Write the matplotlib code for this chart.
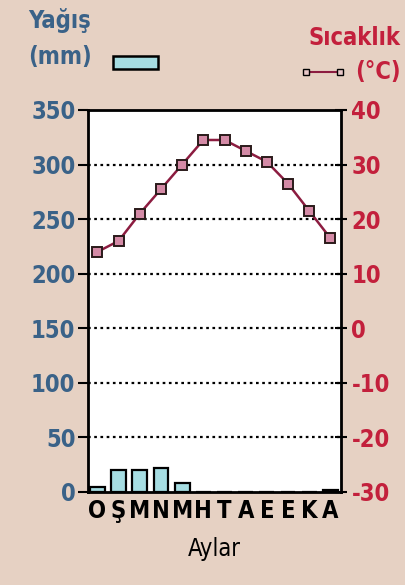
import numpy as np
import matplotlib.pyplot as plt
from matplotlib.patches import Rectangle
from matplotlib.lines import Line2D
from matplotlib import font_manager

plt.rcParams['axes.unicode_minus'] = False

months = ['O', 'Ş', 'M', 'N', 'M', 'H', 'T', 'A', 'E', 'E', 'K', 'A']
rain = [5, 20, 20, 22, 8, 0, 0, 0, 0, 0, 0, 2]
temp = [14, 16, 21, 25.5, 30, 34.5, 34.5, 32.5, 30.5, 26.5, 21.5, 16.5]
rain_ticks = [0, 50, 100, 150, 200, 250, 300, 350]
temp_ticks = [-30, -20, -10, 0, 10, 20, 30, 40]

bg = '#e6d1c3'
blue = '#3a6288'
red = '#c3203c'
line_col = '#8c1c40'

names = {f.name for f in font_manager.fontManager.ttflist}
fam = 'Liberation Sans Narrow' if 'Liberation Sans Narrow' in names else 'DejaVu Sans'
fp = dict(family=fam, stretch='condensed')

fig = plt.figure(figsize=(4.05, 5.85), dpi=100, facecolor=bg)
ax = fig.add_axes([0.217, 0.159, 0.625, 0.653])
ax.set_facecolor('white')
x = np.arange(len(months))

ax.bar(x, rain, width=0.7, color='#a6dde2', edgecolor='black', linewidth=1.6, zorder=3)
ax.set_ylim(0, 350)
ax.set_xlim(-0.45, 11.5)
ax.set_yticks(rain_ticks)
for v in rain_ticks[1:-1]:
    ax.axhline(v, color='black', linestyle=(0, (1.2, 1.6)), linewidth=1.6, zorder=1)
ax.tick_params(axis='y', labelcolor=blue, color='black', labelsize=17, length=7,
               width=1.5, direction='out', pad=2)
ax.set_xticks(x)
ax.set_xticklabels(months, fontsize=17, fontweight='bold', **fp)
ax.tick_params(axis='x', length=0, pad=5)
for lab in ax.get_yticklabels():
    lab.set(fontweight='bold', **fp)
for s in ax.spines.values():
    s.set_linewidth(2)

ax2 = ax.twinx()
ax2.plot(x, temp, color=line_col, linewidth=1.8, marker='s', markersize=7,
         markerfacecolor='#d48aa6', markeredgecolor='#2a1a1a', markeredgewidth=1.4, zorder=4)
ax2.set_ylim(-30, 40)
ax2.set_yticks(temp_ticks)
ax2.tick_params(axis='y', labelcolor=red, color='black', labelsize=17, length=9,
                width=1.5, direction='inout', pad=3)
for lab in ax2.get_yticklabels():
    lab.set(fontweight='bold', **fp)

ax.set_xlabel('Aylar', fontsize=17, labelpad=10, **fp)

fig.text(0.07, 0.965, 'Yağış', color=blue, fontsize=17, fontweight='bold', va='center', **fp)
fig.text(0.07, 0.903, '(mm)', color=blue, fontsize=17, fontweight='bold', va='center', **fp)
fig.patches.append(Rectangle((0.28, 0.882), 0.11, 0.022, transform=fig.transFigure,
                             facecolor='#a6dde2', edgecolor='black', linewidth=1.8))
fig.text(0.99, 0.935, 'Sıcaklık', color=red, fontsize=17, fontweight='bold',
         va='center', ha='right', **fp)
fig.text(0.99, 0.877, '(°C)', color=red, fontsize=17, fontweight='bold',
         va='center', ha='right', **fp)
fig.lines.append(Line2D([0.755, 0.84], [0.877, 0.877], transform=fig.transFigure,
                        color=line_col, linewidth=1.5, marker='s', markersize=5,
                        markerfacecolor='#e8c8c8', markeredgecolor='black'))

fig.savefig('out.png', dpi=100, facecolor=bg)
